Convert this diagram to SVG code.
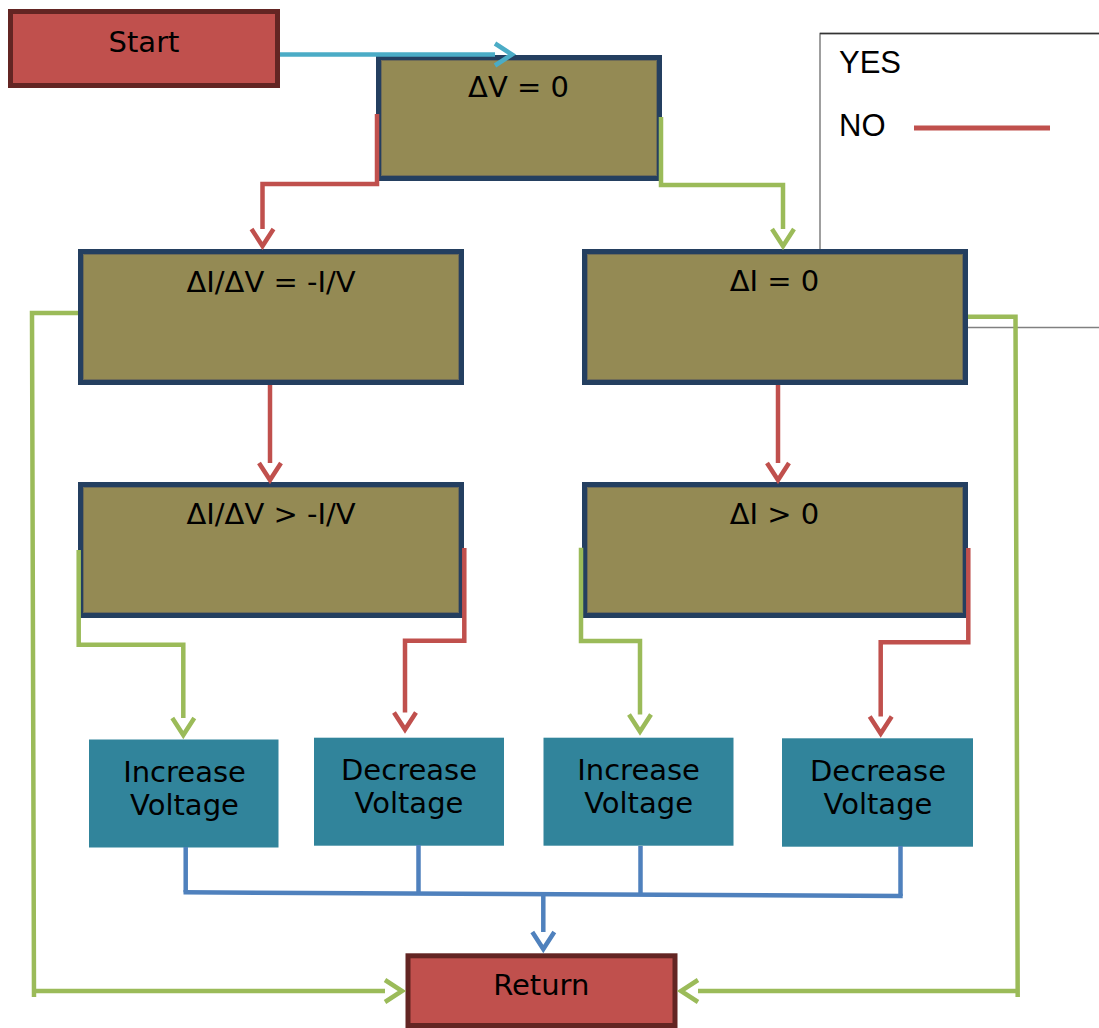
<svg xmlns="http://www.w3.org/2000/svg" width="1099" height="1028" viewBox="0 0 1099 1028">
  <style>
    .term { fill: #c0504d; stroke: #632523; stroke-width: 5; }
    .decision { fill: #948a54; stroke: #243f60; stroke-width: 5; }
    .bevel { fill: none; stroke: #6f6c58; stroke-width: 1; }
    .action { fill: #31849b; }
    .label { font-family: "DejaVu Sans", "Noto Sans", sans-serif; font-size: 29px; fill: #000; text-anchor: middle; }
    .legend-text { font-family: "Liberation Sans", Arial, sans-serif; font-size: 31px; fill: #000; }
    .conn { fill: none; stroke-width: 4.5; stroke-linejoin: miter; stroke-linecap: butt; }
    .yes { stroke: #9bbb59; }
    .no { stroke: #c0504d; }
    .merge { stroke: #4f81bd; }
    .start { stroke: #4bacc6; }
  </style>
  <defs>
    <marker id="arrow-yes" markerUnits="userSpaceOnUse" viewBox="-2 -15 26 30" markerWidth="26" markerHeight="30" refX="0" refY="0" orient="auto">
      <path d="M0,-11 L17,0 L0,11" fill="none" stroke="#9bbb59" stroke-width="4.5"/>
    </marker>
    <marker id="arrow-no" markerUnits="userSpaceOnUse" viewBox="-2 -15 26 30" markerWidth="26" markerHeight="30" refX="0" refY="0" orient="auto">
      <path d="M0,-11 L17,0 L0,11" fill="none" stroke="#c0504d" stroke-width="4.5"/>
    </marker>
    <marker id="arrow-merge" markerUnits="userSpaceOnUse" viewBox="-2 -15 26 30" markerWidth="26" markerHeight="30" refX="0" refY="0" orient="auto">
      <path d="M0,-11 L17,0 L0,11" fill="none" stroke="#4f81bd" stroke-width="4.5"/>
    </marker>
    <marker id="arrow-start" markerUnits="userSpaceOnUse" viewBox="-2 -15 26 30" markerWidth="26" markerHeight="30" refX="0" refY="0" orient="auto">
      <path d="M0,-11 L17,0 L0,11" fill="none" stroke="#4bacc6" stroke-width="4.5"/>
    </marker>
  </defs>

  <rect width="1099" height="1028" fill="#ffffff"/>

  <!-- legend -->
  <g id="legend">
    <rect x="820" y="33.5" width="290" height="294" fill="#ffffff" stroke="#808080" stroke-width="1.5"/>
    <line x1="820" y1="33.5" x2="1099" y2="33.5" stroke="#333333" stroke-width="1.5"/>
    <text class="legend-text" x="839" y="73">YES</text>
    <text class="legend-text" x="839" y="136">NO</text>
    <line x1="914" y1="128" x2="1050" y2="128" stroke="#c0504d" stroke-width="5"/>
  </g>

  <!-- nodes -->
  <g id="start">
    <rect class="term" x="10.5" y="11.5" width="267" height="74"/>
    <text class="label" x="144" y="51.5">Start</text>
  </g>

  <g id="dv-zero">
    <rect class="decision" x="378.5" y="57.5" width="281" height="121"/>
    <rect class="bevel" x="381.5" y="60.5" width="275" height="115"/>
    <text class="label" x="518.5" y="96.7">ΔV = 0</text>
  </g>

  <g id="didv-eq">
    <rect class="decision" x="80.5" y="251.5" width="381" height="131"/>
    <rect class="bevel" x="83.5" y="254.5" width="375" height="125"/>
    <text class="label" x="271" y="291.5">ΔI/ΔV = -I/V</text>
  </g>

  <g id="di-zero">
    <rect class="decision" x="584.5" y="251.5" width="381" height="131"/>
    <rect class="bevel" x="587.5" y="254.5" width="375" height="125"/>
    <text class="label" x="774.5" y="290.7">ΔI = 0</text>
  </g>

  <g id="didv-gt">
    <rect class="decision" x="80.5" y="484.5" width="381" height="131"/>
    <rect class="bevel" x="83.5" y="487.5" width="375" height="125"/>
    <text class="label" x="271" y="524.3">ΔI/ΔV &gt; -I/V</text>
  </g>

  <g id="di-gt">
    <rect class="decision" x="584.5" y="484.5" width="381" height="131"/>
    <rect class="bevel" x="587.5" y="487.5" width="375" height="125"/>
    <text class="label" x="774.5" y="524.3">ΔI &gt; 0</text>
  </g>

  <g id="increase-1">
    <rect class="action" x="89" y="739.5" width="189.5" height="108"/>
    <text class="label" x="184.5" y="781.7">Increase</text>
    <text class="label" x="184.5" y="815">Voltage</text>
  </g>

  <g id="decrease-1">
    <rect class="action" x="314" y="737.7" width="190" height="108"/>
    <text class="label" x="409" y="780">Decrease</text>
    <text class="label" x="409" y="813.3">Voltage</text>
  </g>

  <g id="increase-2">
    <rect class="action" x="543.5" y="737.7" width="190" height="108"/>
    <text class="label" x="638.6" y="780">Increase</text>
    <text class="label" x="638.6" y="813">Voltage</text>
  </g>

  <g id="decrease-2">
    <rect class="action" x="782" y="738.3" width="191" height="108.4"/>
    <text class="label" x="878" y="781">Decrease</text>
    <text class="label" x="878" y="814">Voltage</text>
  </g>

  <g id="return">
    <rect class="term" x="408" y="955.8" width="267" height="69.7"/>
    <text class="label" x="541.3" y="995">Return</text>
  </g>

  <!-- connectors -->
  <g id="connectors">
    <path class="conn start" d="M280,54.5 H495" marker-end="url(#arrow-start)"/>
    <path class="conn no" d="M377,114 V184 H262.5 V229" marker-end="url(#arrow-no)"/>
    <path class="conn yes" d="M661,117 V185 H783 V229" marker-end="url(#arrow-yes)"/>
    <path class="conn no" d="M270,385 V463" marker-end="url(#arrow-no)"/>
    <path class="conn no" d="M778,385 V463" marker-end="url(#arrow-no)"/>
    <path class="conn yes" d="M78,313 H32 L34,997"/>
    <path class="conn yes" d="M34,991 H385" marker-end="url(#arrow-yes)"/>
    <path class="conn yes" d="M968,316.7 H1015.5 L1017.7,997"/>
    <path class="conn yes" d="M1017.7,991 H698" marker-end="url(#arrow-yes)"/>
    <path class="conn yes" d="M78.7,550 V644.7 H183.3 V718" marker-end="url(#arrow-yes)"/>
    <path class="conn no" d="M464.3,548 V640.7 H405 V712.5" marker-end="url(#arrow-no)"/>
    <path class="conn yes" d="M581,547.7 V641 H640 V714.5" marker-end="url(#arrow-yes)"/>
    <path class="conn no" d="M968.3,548 V642.3 H880.7 V716.5" marker-end="url(#arrow-no)"/>
    <path class="conn merge" d="M185.7,847 V892.3"/>
    <path class="conn merge" d="M418.5,845 V893"/>
    <path class="conn merge" d="M640.5,846 V894"/>
    <path class="conn merge" d="M900.5,846 V896"/>
    <path class="conn merge" d="M183.5,892.3 L902.7,896"/>
    <path class="conn merge" d="M543.3,894 V932" marker-end="url(#arrow-merge)"/>
  </g>
</svg>
